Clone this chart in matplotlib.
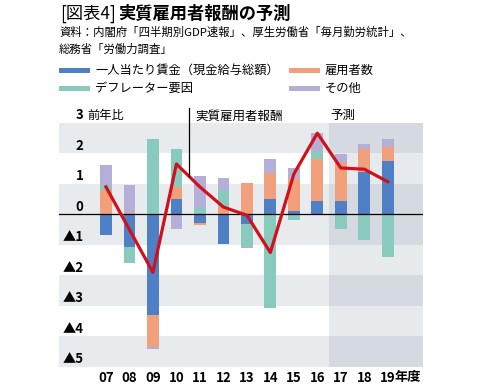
import numpy as np
import matplotlib.pyplot as plt
from matplotlib.patches import Rectangle

plt.rcParams['font.family'] = ['Noto Sans CJK JP', 'DejaVu Sans']

# データ（前年比、％）
years = ['07', '08', '09', '10', '11', '12', '13', '14', '15', '16', '17', '18', '19']
wage = [-0.69, -1.08, -3.30, 0.52, -0.28, -0.98, -0.30, 0.50, 0.11, 0.43, 0.44, 1.40, 1.76]
employees = [0.80, 0.05, -1.04, 0.38, -0.08, 0.24, 1.03, 0.87, 1.04, 1.37, 1.27, 0.73, 0.46]
deflator = [0.13, -0.50, 2.47, 1.23, 0.21, 0.57, -0.74, -3.06, -0.19, 0.28, -0.49, -0.84, -1.39]
other = [0.69, 0.91, -0.06, -0.49, 1.04, 0.39, -0.06, 0.45, 0.36, 0.60, 0.26, 0.17, 0.24]
real_comp = [0.90, -0.50, -1.90, 1.65, 0.90, 0.24, -0.03, -1.25, 1.32, 2.66, 1.52, 1.48, 1.07]

series = [
    ('一人当たり賃金（現金給与総額）', wage, '#4f7fc5'),
    ('雇用者数', employees, '#f29f7b'),
    ('デフレーター要因', deflator, '#88cbbe'),
    ('その他', other, '#b5aed6'),
]
yticks = [3, 2, 1, 0, -1, -2, -3, -4, -5]

fig = plt.figure(figsize=(4.82, 3.92), dpi=100)
ax = fig.add_axes([59 / 482, 1 - 367 / 392, 364 / 482, 244.2 / 392])

x = np.arange(len(years))
xmin, xmax = -2, 13.5
ymin, ymax = -5, 3
fc = 9.5  # 予測の開始位置
ffrac = (fc - xmin) / (xmax - xmin)

# 背景の帯
gray_bands = [(2, 3), (-1, 1), (-3, -2), (-5, -4)]
white_bands = [(1, 2), (-2, -1), (-4, -3)]
for y0, y1 in gray_bands:
    ax.axhspan(y0, y1, 0, ffrac, color='#e7ebee', lw=0, zorder=0)
    ax.axhspan(y0, y1, ffrac, 1, color='#d4dae0', lw=0, zorder=0)
for y0, y1 in white_bands:
    ax.axhspan(y0, y1, ffrac, 1, color='#e7eaed', lw=0, zorder=0)

# 積み上げ棒
pos = np.zeros(len(years))
neg = np.zeros(len(years))
for name, vals, col in series:
    v = np.array(vals)
    bottom = np.where(v >= 0, pos, neg)
    ax.bar(x, v, 0.5, bottom=bottom, color=col, lw=0, zorder=2)
    pos = pos + np.clip(v, 0, None)
    neg = neg + np.clip(v, None, 0)

ax.axhline(0, color='black', lw=0.9, zorder=3)
ax.plot(x, real_comp, color='#d0111b', lw=2.3, zorder=4)

ax.set_xlim(xmin, xmax)
ax.set_ylim(ymin, ymax)
ax.set_yticks([])
ax.set_xticks(x)
ax.set_xticklabels(years, fontsize=9.5, fontweight='bold')
ax.tick_params(axis='x', length=0, pad=3)
for s in ax.spines.values():
    s.set_visible(False)
ax.text(12.27, -5.34, '年度', fontsize=9.5, fontweight='bold', ha='left', va='center',
        clip_on=False)

# 縦軸の目盛り
for t in yticks:
    lab = '▲' + str(-t) if t < 0 else str(t)
    ax.text(-0.95, t + 0.25, lab, fontsize=9.5, fontweight='bold',
            ha='right', va='center', clip_on=False, zorder=5)
ax.text(-0.8, 3.23, '前年比', fontsize=8.8, ha='left', va='center', clip_on=False)

# 注記
ax.plot([3.55, 3.55], [3.49, 1.26], color='black', lw=0.9, clip_on=False, zorder=5)
ax.text(3.8, 3.2, '実質雇用者報酬', fontsize=9, ha='left', va='center', clip_on=False)
ax.text(9.55, 3.25, '予測', fontsize=9, ha='left', va='center', clip_on=False)

# タイトル
fig.text(60 / 482, 1 - 14 / 392, '[図表4]', fontsize=12.4, ha='left', va='center')
fig.text(118 / 482, 1 - 14 / 392, '実質雇用者報酬の予測', fontsize=12.4,
         fontweight='bold', ha='left', va='center')
fig.text(59 / 482, 1 - 32 / 392, '資料：内閣府「四半期別GDP速報」、厚生労働省「毎月勤労統計」、',
         fontsize=8.2, ha='left', va='center')
fig.text(59 / 482, 1 - 49.5 / 392, '総務省「労働力調査」', fontsize=8.2, ha='left', va='center')

# 凡例
pos_leg = [(59, 70), (289, 70), (59, 88), (289, 88)]
for (px, py), (name, _, col) in zip(pos_leg, series):
    fig.add_artist(Rectangle((px / 482, 1 - (py + 2.5) / 392), 31 / 482, 5 / 392,
                             transform=fig.transFigure, color=col, lw=0))
    fig.text((px + 36) / 482, 1 - py / 392, name, fontsize=8.8, ha='left', va='center')

fig.savefig('out.png', dpi=100)
